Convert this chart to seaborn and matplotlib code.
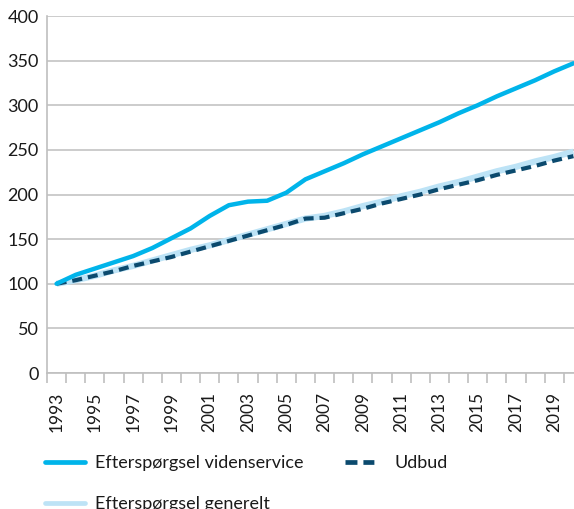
import matplotlib
matplotlib.use("Agg")
import matplotlib.pyplot as plt
from matplotlib.lines import Line2D
import numpy as np
import pandas as pd
import seaborn as sns

# Index values, 1993 = 100
years = list(range(1993, 2021))
videnservice = [100, 110, 117, 124, 131, 140, 151, 162, 176, 188, 192, 193, 202, 217,
                226, 235, 245, 254, 263, 272, 281, 291, 300, 310, 319, 328, 338, 347]
generelt = [100, 104, 109, 115, 120, 126, 132, 138, 143, 149, 155, 161, 167, 173,
            176, 181, 187, 192, 198, 203, 209, 214, 220, 226, 231, 237, 242, 248]
udbud = [100, 104, 109, 114, 120, 125, 130, 136, 142, 148, 154, 160, 166, 173,
         174, 179, 184, 190, 195, 200, 206, 211, 216, 222, 227, 232, 238, 243]

labels = ["Efterspørgsel videnservice", "Efterspørgsel generelt", "Udbud"]
colors = ["#00B4EA", "#BDE3F6", "#0B4A6E"]

df = pd.DataFrame({"idx": np.arange(len(years)), "year": years,
                   labels[0]: videnservice, labels[1]: generelt, labels[2]: udbud})

sns.set_theme(style="white")
plt.rcParams["font.family"] = ["Lato", "DejaVu Sans"]
plt.rcParams["lines.scale_dashes"] = False

fig = plt.figure(figsize=(5.74, 5.09), dpi=100)
ax = fig.add_axes([47 / 574, (509 - 373) / 509, 536 / 574, 357 / 509])

sns.lineplot(data=df, x="idx", y=labels[1], ax=ax, color=colors[1], lw=4.5,
             solid_capstyle="butt", legend=False)
sns.lineplot(data=df, x="idx", y=labels[2], ax=ax, color=colors[2], lw=3.0,
             legend=False)
ax.lines[-1].set_linestyle((0, (7.2, 4.3)))
ax.lines[-1].set_dash_capstyle("butt")
sns.lineplot(data=df, x="idx", y=labels[0], ax=ax, color=colors[0], lw=3.2,
             solid_capstyle="round", legend=False)

ax.set_xlim(-0.5, len(years) - 0.5)
ax.set_ylim(0, 400)
ax.set_yticks(range(0, 401, 50))
ax.set_xticks(df["idx"][::2])
ax.set_xticklabels([str(y) for y in years[::2]], rotation=90)
ax.set_xticks(np.arange(-0.5, len(years), 1), minor=True)
ax.tick_params(axis="x", which="major", length=0, pad=13.5, labelsize=12.5, colors="#1a1a1a")
ax.tick_params(axis="x", which="minor", length=7, width=1.2, color="#BFBFBF", bottom=True)
ax.tick_params(axis="y", length=0, pad=6, labelsize=13, colors="#1a1a1a")
ax.set_xlabel("")
ax.set_ylabel("")

ax.grid(axis="y", color="#C4C4C4", lw=1.2)
ax.set_axisbelow(True)
for side in ["top", "right"]:
    ax.spines[side].set_visible(False)
for side in ["left", "bottom"]:
    ax.spines[side].set_color("#BFBFBF")
    ax.spines[side].set_linewidth(1.2)

handles = [
    Line2D([], [], color=colors[0], lw=3.4, solid_capstyle="round"),
    Line2D([], [], color=colors[1], lw=3.4, solid_capstyle="round"),
    Line2D([], [], color=colors[2], lw=3.4, linestyle=(0, (8.6, 4.3, 7.9, 30))),
]
fig.legend(handles, labels, ncol=2, loc="upper left",
           bbox_to_anchor=(38 / 574, 1 - 448 / 509), frameon=False,
           fontsize=13, handlelength=2.2, handletextpad=0.55,
           columnspacing=2.3, labelspacing=1.4, borderaxespad=0,
           labelcolor="#1a1a1a")

fig.savefig("out.png", dpi=100)
